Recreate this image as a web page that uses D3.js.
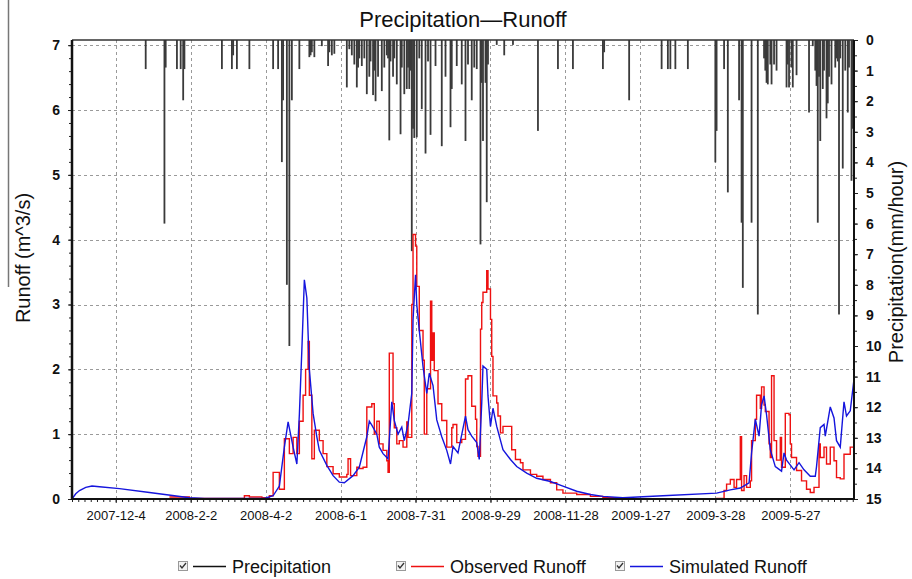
<!DOCTYPE html>
<html><head><meta charset="utf-8">
<script src="https://cdn.jsdelivr.net/npm/d3@7"></script>
<style>body{margin:0;background:#fff} svg{display:block} text{font-family:Arial,"Liberation Sans",sans-serif}</style>
</head><body><svg id="c" width="912" height="579"></svg>
<script>
const xTickDates = ["2007-12-04","2008-02-02","2008-04-02","2008-06-01","2008-07-31","2008-09-29","2008-11-28","2009-01-27","2009-03-28","2009-05-27"];
const xTickLabels = ["2007-12-4","2008-2-2","2008-4-2","2008-6-1","2008-7-31","2008-9-29","2008-11-28","2009-1-27","2009-3-28","2009-5-27"];
const runoffTicks = [0,1,2,3,4,5,6,7];
const precipTicks = [0,1,2,3,4,5,6,7,8,9,10,11,12,13,14,15];
const seriesNames = ["Precipitation","Observed Runoff","Simulated Runoff"];

const precipDates = ["2007-12-28","2008-01-12","2008-01-13","2008-01-22","2008-01-25","2008-01-27","2008-01-28","2008-02-27","2008-03-06","2008-03-07","2008-03-10","2008-03-20",
"2008-04-08","2008-04-12","2008-04-15","2008-04-16","2008-04-19","2008-04-21","2008-04-23","2008-04-29","2008-05-07","2008-05-08","2008-05-09","2008-05-11","2008-05-17","2008-05-22","2008-05-23","2008-05-25","2008-05-27",
"2008-06-06","2008-06-08","2008-06-10","2008-06-12","2008-06-14","2008-06-15","2008-06-16","2008-06-18","2008-06-20","2008-06-22","2008-06-24","2008-06-25","2008-06-27","2008-06-28","2008-06-29",
"2008-07-01","2008-07-04","2008-07-06","2008-07-08","2008-07-09","2008-07-10","2008-07-11","2008-07-13","2008-07-14","2008-07-16","2008-07-19","2008-07-20","2008-07-22","2008-07-24","2008-07-25","2008-07-26","2008-07-27","2008-07-28","2008-07-29","2008-07-30",
"2008-08-01","2008-08-03","2008-08-05","2008-08-08","2008-08-10","2008-08-12","2008-08-16","2008-08-21","2008-08-24","2008-08-28","2008-08-29",
"2008-09-02","2008-09-06","2008-09-09","2008-09-11","2008-09-14","2008-09-16","2008-09-18","2008-09-21","2008-09-22","2008-09-23","2008-09-25","2008-09-26","2008-09-27",
"2008-10-04","2008-10-10","2008-10-17","2008-11-06","2008-11-22","2008-12-04","2008-12-28","2008-12-29","2009-01-18","2009-02-13","2009-02-18","2009-02-20","2009-02-24","2009-03-06","2009-03-28","2009-03-29",
"2009-04-04","2009-04-07","2009-04-16","2009-04-18","2009-04-19","2009-04-26","2009-05-01","2009-05-06","2009-05-07","2009-05-08","2009-05-09","2009-05-11","2009-05-12","2009-05-14","2009-05-16","2009-05-24","2009-05-25","2009-05-26","2009-05-28","2009-05-29",
"2009-06-01","2009-06-11","2009-06-14","2009-06-16","2009-06-17","2009-06-18","2009-06-19","2009-06-20","2009-06-22","2009-06-23","2009-06-25","2009-06-26","2009-06-27","2009-06-29",
"2009-07-02","2009-07-03","2009-07-04","2009-07-05","2009-07-06","2009-07-08","2009-07-10","2009-07-12","2009-07-13","2009-07-15","2009-07-16"];
const precipValues = [0.95,6.0,0.9,0.95,0.95,1.97,0.95,0.95,0.95,0.5,0.95,0.95,
0.95,0.95,3.99,1.97,8.0,10.0,1.97,0.95,0.56,0.5,0.4,0.56,0.2,0.85,0.4,0.5,0.45,
1.55,0.3,0.5,0.8,1.55,0.9,0.6,0.85,0.6,1.77,1.2,0.7,1.8,1.0,2.0,
1.2,1.67,0.9,0.5,0.6,3.28,0.7,1.2,0.6,1.45,3.08,0.9,1.77,1.6,0.9,1.6,1.0,6.9,2.9,3.2,
3.18,0.6,2.26,3.71,0.7,3.1,0.85,3.47,1.2,2.85,1.6,
0.85,1.45,3.3,0.8,1.97,0.9,0.95,6.68,1.4,3.3,1.4,5.3,0.8,
0.16,0.5,0.16,2.97,0.95,0.95,0.95,0.4,1.97,0.95,0.95,0.95,0.95,0.95,4.0,2.97,
0.95,4.98,1.97,5.97,8.1,5.97,8.97,0.6,1.0,1.4,1.45,0.8,1.45,0.8,1.0,1.55,0.8,1.55,0.9,1.55,
1.15,2.37,0.2,1.0,1.5,5.97,1.2,3.3,1.6,1.0,2.56,2.07,1.2,1.45,
0.9,0.6,0.7,8.97,0.6,4.2,1.0,2.37,0.9,4.6,2.9];

const obsDates = ["2008-01-16","2008-02-01","2008-03-12","2008-03-16","2008-03-20","2008-03-30","2008-04-05","2008-04-08","2008-04-12","2008-04-13","2008-04-17","2008-04-21","2008-04-24","2008-04-27","2008-04-29",
"2008-05-02","2008-05-04","2008-05-06","2008-05-07","2008-05-09","2008-05-11","2008-05-15","2008-05-18","2008-05-21","2008-05-26","2008-05-31",
"2008-06-06","2008-06-07","2008-06-09","2008-06-14","2008-06-16","2008-06-19","2008-06-22","2008-06-26","2008-06-28","2008-06-30",
"2008-07-02","2008-07-05","2008-07-08","2008-07-09","2008-07-10","2008-07-13","2008-07-14","2008-07-16","2008-07-18","2008-07-21","2008-07-24","2008-07-25","2008-07-28","2008-07-29","2008-07-31",
"2008-08-01","2008-08-03","2008-08-06","2008-08-07","2008-08-09","2008-08-12","2008-08-13","2008-08-14","2008-08-15","2008-08-18","2008-08-21","2008-08-25","2008-08-29","2008-08-30",
"2008-09-02","2008-09-06","2008-09-09","2008-09-11","2008-09-14","2008-09-17","2008-09-18","2008-09-19","2008-09-21","2008-09-22","2008-09-23","2008-09-26","2008-09-27","2008-09-29","2008-09-30",
"2008-10-01","2008-10-04","2008-10-05","2008-10-07","2008-10-09","2008-10-13","2008-10-16","2008-10-19","2008-10-23","2008-10-25","2008-10-31",
"2008-11-05","2008-11-10","2008-11-16","2008-11-21","2008-11-26","2008-12-07","2008-12-18","2008-12-28","2009-01-08","2009-03-29",
"2009-04-04","2009-04-06","2009-04-09","2009-04-12","2009-04-14","2009-04-17","2009-04-18","2009-04-20","2009-04-22","2009-04-25","2009-04-26","2009-04-29","2009-04-30",
"2009-05-03","2009-05-04","2009-05-06","2009-05-07","2009-05-10","2009-05-11","2009-05-12","2009-05-14","2009-05-16","2009-05-19","2009-05-20","2009-05-23","2009-05-26","2009-05-27","2009-05-28",
"2009-06-01","2009-06-05","2009-06-09","2009-06-12","2009-06-15","2009-06-19","2009-06-20","2009-06-23","2009-06-25","2009-06-28",
"2009-07-01","2009-07-03","2009-07-06","2009-07-09","2009-07-11","2009-07-14","2009-07-17"];
const obsValues = [0.03,0.01,0.01,0.05,0.03,0.02,0.05,0.41,0.41,0.15,0.93,0.7,0.95,0.7,1.2,
1.6,2.0,2.43,1.6,0.62,1.06,0.9,0.7,0.5,0.39,0.34,
0.38,0.62,0.36,0.49,0.47,0.49,1.42,1.47,1.0,1.2,
0.85,0.75,0.59,0.41,2.25,1.47,1.1,0.85,0.9,0.8,1.19,0.95,3.0,4.08,3.9,
3.28,2.6,2.14,1.0,1.7,3.05,2.14,2.56,1.98,1.47,1.21,0.8,1.1,1.15,
0.87,0.92,1.85,1.9,1.43,1.23,0.81,0.66,2.62,3.03,3.19,3.52,3.24,2.77,2.2,
1.59,1.48,1.28,1.02,1.12,1.12,0.76,0.61,0.56,0.45,0.38,
0.35,0.3,0.25,0.14,0.09,0.07,0.04,0.02,0.0,0.01,
0.13,0.23,0.3,0.18,0.3,0.96,0.13,0.36,0.18,0.28,0.9,1.23,1.6,
1.4,1.73,1.45,1.35,0.85,0.64,1.9,0.9,0.6,0.95,0.49,1.32,1.3,0.85,0.64,
0.44,0.28,0.15,0.1,0.18,0.85,0.64,0.8,0.54,0.8,
0.59,0.33,0.31,0.69,0.69,0.8,1.05];

const simDates = ["2007-10-30","2007-11-02","2007-11-05","2007-11-10","2007-11-15","2007-11-21","2007-12-07","2007-12-31","2008-01-20","2008-02-01","2008-02-13","2008-04-01","2008-04-08","2008-04-13","2008-04-17","2008-04-20","2008-04-24","2008-04-27","2008-04-29",
"2008-05-01","2008-05-03","2008-05-05","2008-05-07","2008-05-10","2008-05-13","2008-05-15","2008-05-21","2008-05-26","2008-05-31",
"2008-06-04","2008-06-11","2008-06-16","2008-06-22","2008-06-24","2008-06-26","2008-06-30",
"2008-07-02","2008-07-05","2008-07-09","2008-07-12","2008-07-14","2008-07-17","2008-07-20","2008-07-22","2008-07-25","2008-07-28","2008-07-29","2008-07-31",
"2008-08-01","2008-08-03","2008-08-06","2008-08-09","2008-08-11","2008-08-14","2008-08-17","2008-08-21","2008-08-25","2008-08-28","2008-08-30",
"2008-09-03","2008-09-09","2008-09-11","2008-09-14","2008-09-18","2008-09-20","2008-09-22","2008-09-23","2008-09-26","2008-09-27","2008-09-29",
"2008-10-01","2008-10-04","2008-10-09","2008-10-15","2008-10-20","2008-10-28","2008-11-05","2008-11-16","2008-11-26","2008-12-07","2008-12-18","2008-12-28",
"2009-01-13","2009-02-14","2009-03-29","2009-04-09","2009-04-17","2009-04-24","2009-04-26","2009-04-29",
"2009-05-02","2009-05-04","2009-05-06","2009-05-08","2009-05-11","2009-05-15","2009-05-20","2009-05-22","2009-05-24","2009-05-30",
"2009-06-03","2009-06-07","2009-06-12","2009-06-16","2009-06-17","2009-06-20","2009-06-23","2009-06-24","2009-06-28",
"2009-07-01","2009-07-03","2009-07-06","2009-07-09","2009-07-11","2009-07-14","2009-07-17"];
const simValues = [0,0.08,0.13,0.18,0.2,0.19,0.16,0.1,0.05,0.02,0.01,0.01,0.05,0.2,0.8,1.19,0.8,0.54,1.3,
2.3,3.38,3.1,2.0,1.32,0.96,0.75,0.52,0.36,0.26,
0.25,0.36,0.49,0.96,1.2,1.14,1.0,
0.8,0.7,0.62,1.5,1.21,1.0,1.11,0.9,1.15,1.63,2.76,3.46,
3.0,2.6,2.04,1.63,1.94,1.75,1.22,0.96,0.75,0.54,0.81,
0.71,1.28,1.07,0.97,0.87,0.61,1.48,2.05,2.0,1.59,1.12,
1.4,1.12,0.76,0.61,0.5,0.4,0.32,0.27,0.2,0.12,0.07,0.04,
0.02,0.05,0.09,0.14,0.17,0.25,0.71,1.23,
0.97,1.45,1.59,1.3,0.76,0.5,0.43,0.71,0.6,0.45,
0.56,0.45,0.35,0.35,0.5,1.1,1.15,0.97,1.42,
1.25,0.9,0.8,1.5,1.28,1.36,1.85];

const parse = d3.timeParse("%Y-%m-%d");
const svg = d3.select("#c");
const L = 72, R = 854, T = 40, B = 499;

const x = d3.scaleTime().domain([parse("2007-10-30"), parse("2009-07-17")]).range([L, R]);
const yR = d3.scaleLinear().domain([0, 7.08]).range([B, T]);
const yP = d3.scaleLinear().domain([0, 15]).range([T, B]);

svg.append("clipPath").attr("id","clip").append("rect").attr("x",L).attr("y",T).attr("width",R-L).attr("height",B-T);

// grid
const grid = svg.append("g").attr("stroke","#9a9a9a").attr("stroke-width",1).attr("stroke-dasharray","3,3");
grid.selectAll("line.h").data(runoffTicks.filter(d=>d>0)).join("line")
  .attr("x1",L).attr("x2",R).attr("y1",d=>Math.round(yR(d))+0.5).attr("y2",d=>Math.round(yR(d))+0.5);
grid.selectAll("line.v").data(xTickDates).join("line")
  .attr("x1",d=>Math.round(x(parse(d)))+0.5).attr("x2",d=>Math.round(x(parse(d)))+0.5).attr("y1",T).attr("y2",B);

const plot = svg.append("g").attr("clip-path","url(#clip)");
// precipitation bars
plot.selectAll("rect.p").data(precipDates.map((d,i)=>({d:parse(d),v:precipValues[i]}))).join("rect")
  .attr("x",d=>x(d.d)-0.9).attr("width",1.8).attr("y",T).attr("height",d=>yP(d.v)-T)
  .attr("fill","#3a3a3a");

const sim = simDates.map((d,i)=>({d:parse(d),v:simValues[i]}));
const obs = obsDates.map((d,i)=>({d:parse(d),v:obsValues[i]}));
plot.append("path").datum(obs).attr("fill","none").attr("stroke","#ee1111").attr("stroke-width",1.4)
  .attr("d",d3.line().x(d=>x(d.d)).y(d=>yR(d.v)).curve(d3.curveStepAfter));
plot.append("path").datum(sim).attr("fill","none").attr("stroke","#1515dd").attr("stroke-width",1.4)
  .attr("d",d3.line().x(d=>x(d.d)).y(d=>yR(d.v)));

// axes
const axL = svg.append("g").attr("transform",`translate(${L},0)`)
  .call(d3.axisLeft(yR).tickValues(runoffTicks).tickSize(4).tickPadding(8).tickFormat(d3.format("d")));
const axLm = svg.append("g").attr("transform",`translate(${L},0)`)
  .call(d3.axisLeft(yR).tickValues(d3.range(0,7.01,0.2)).tickSize(3).tickFormat(""));
const axR = svg.append("g").attr("transform",`translate(${R},0)`)
  .call(d3.axisRight(yP).tickValues(precipTicks).tickSize(4).tickPadding(8).tickFormat(d3.format("d")));
const axRm = svg.append("g").attr("transform",`translate(${R},0)`)
  .call(d3.axisRight(yP).tickValues(d3.range(0,15.01,0.5)).tickSize(3).tickFormat(""));
const axB = svg.append("g").attr("transform",`translate(0,${B})`)
  .call(d3.axisBottom(x).tickValues(xTickDates.map(parse)).tickSize(4).tickPadding(8).tickFormat((d,i)=>xTickLabels[i]));
const axBm = svg.append("g").attr("transform",`translate(0,${B})`)
  .call(d3.axisBottom(x).tickValues(d3.range(0,626,5).map(k=>d3.timeDay.offset(parse("2007-10-30"),k))).tickSize(3).tickFormat(""));
[axL,axLm,axR,axRm,axB,axBm].forEach(g=>{g.select(".domain").remove(); g.selectAll("line").attr("stroke","#222");});
[axL,axR].forEach(g=>g.selectAll("text").attr("font-size",14).attr("font-weight","bold").attr("fill","#111"));
axB.selectAll("text").attr("font-size",13).attr("fill","#111");

// frame
svg.append("line").attr("x1",L).attr("x2",R).attr("y1",T).attr("y2",T).attr("stroke","#333").attr("stroke-width",1.5);
svg.append("line").attr("x1",L).attr("x2",R).attr("y1",B).attr("y2",B).attr("stroke","#111").attr("stroke-width",2);
svg.append("line").attr("x1",L).attr("x2",L).attr("y1",T).attr("y2",B+1).attr("stroke","#111").attr("stroke-width",2.5);
svg.append("line").attr("x1",R).attr("x2",R).attr("y1",T).attr("y2",B+1).attr("stroke","#111").attr("stroke-width",2);

// title & labels
svg.append("text").attr("x",463).attr("y",27).attr("text-anchor","middle").attr("font-size",22).attr("fill","#111").text("Precipitation\u2014Runoff");
svg.append("line").attr("x1",8.5).attr("x2",8.5).attr("y1",0).attr("y2",287).attr("stroke","#777").attr("stroke-width",1.5);
svg.append("text").attr("transform","translate(30,258) rotate(-90)").attr("text-anchor","middle").attr("font-size",20).attr("fill","#111").text("Runoff (m^3/s)");
svg.append("text").attr("transform","translate(903,262) rotate(-90)").attr("text-anchor","middle").attr("font-size",20).attr("fill","#111").text("Precipitation(mm/hour)");

// legend
const legColors = ["#111","#ee1111","#1515dd"];
const legX = [178, 396, 615];
seriesNames.forEach((n,i)=>{
  const g = svg.append("g").attr("transform",`translate(${legX[i]},561)`);
  g.append("rect").attr("x",0.5).attr("y",0.5).attr("width",9).attr("height",9).attr("fill","#f2f2f2").attr("stroke","#999");
  g.append("path").attr("d","M2,4.5 L4,7 L8,2").attr("fill","none").attr("stroke","#333").attr("stroke-width",1.3);
  g.append("line").attr("x1",15).attr("x2",48).attr("y1",5.5).attr("y2",5.5).attr("stroke",legColors[i]).attr("stroke-width",1.3);
  g.append("text").attr("x",54).attr("y",12).attr("font-size",18).attr("fill","#111").text(n);
});
</script></body></html>
